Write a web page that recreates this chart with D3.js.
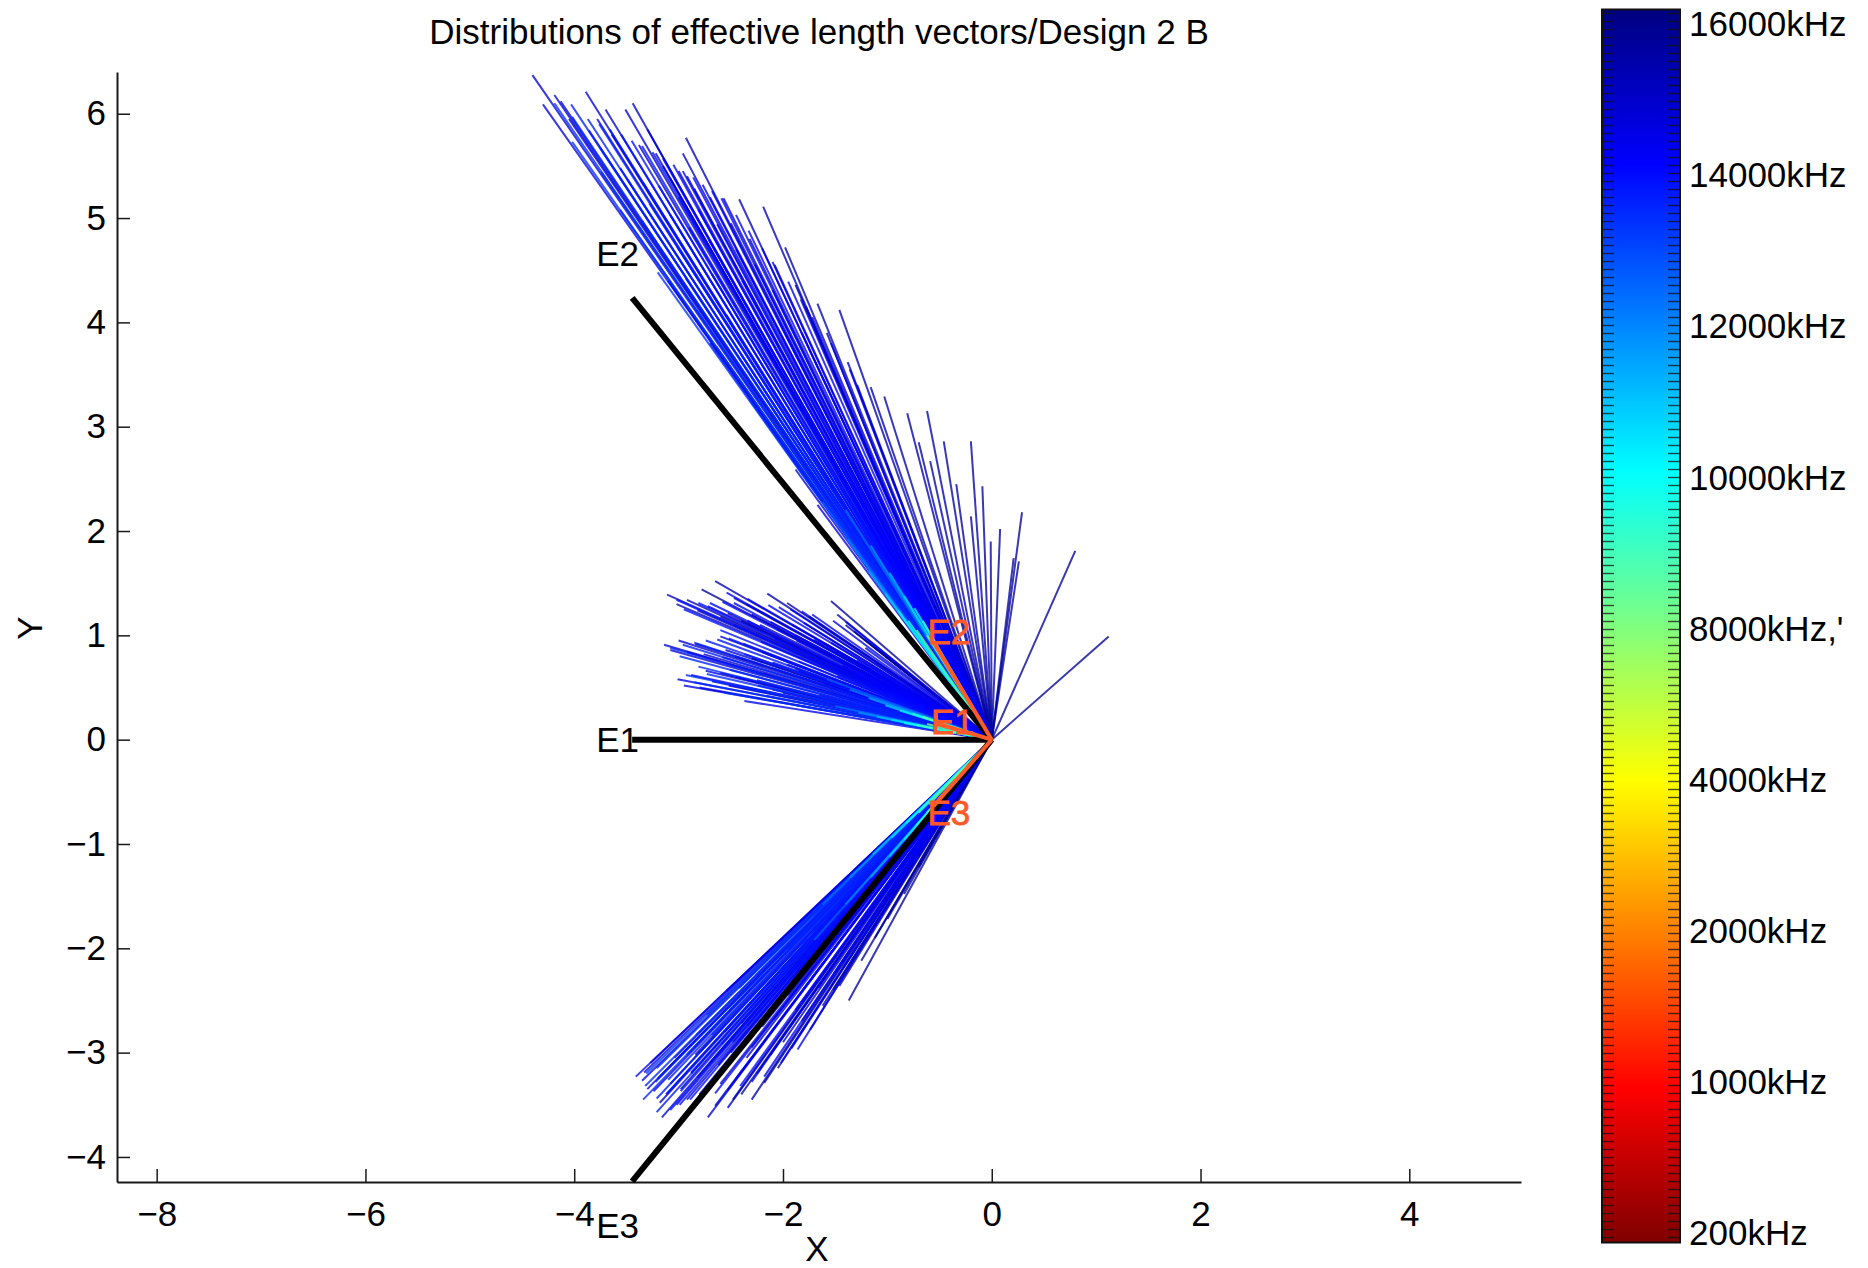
<!DOCTYPE html>
<html>
<head>
<meta charset="utf-8">
<script src="https://cdn.jsdelivr.net/npm/d3@7"></script>
<style>
  html, body { margin: 0; padding: 0; background: #fff; }
  svg text { font-family: "Liberation Sans", Arial, Helvetica, sans-serif; fill: #000; }
</style>
</head>
<body>
<svg id="chart" width="1868" height="1268"></svg>
<script>
// ---- data --------------------------------------------------------------
const titleText = "Distributions of effective length vectors/Design 2 B";
const xDomain = [-8.38, 5.07];
const yDomain = [-4.24, 6.40];
const xTicks = [-8, -6, -4, -2, 0, 2, 4];
const yTicks = [-4, -3, -2, -1, 0, 1, 2, 3, 4, 5, 6];

const cbarTickFreqs = [200, 1000, 2000, 4000, 8000, 10000, 12000, 14000, 16000];
const cbarTickLabels = ["200kHz", "1000kHz", "2000kHz", "4000kHz", "8000kHz,'",
                        "10000kHz", "12000kHz", "14000kHz", "16000kHz"];

// measurement frequencies (kHz); each electrode has one vector per frequency
const freqKHz = [
  200, 600, 1000, 2000, 4000, 6500,
  8000, 8500, 9000, 9500, 10000, 10300, 10600, 10900, 11200, 11500, 11800, 12100, 12400, 12700,
  13400, 13420, 13440, 13460, 13480, 13500, 13520, 13540, 13560, 13580,
  13600, 13620, 13640, 13660, 13680, 13700, 13720, 13740, 13760, 13780,
  13800, 13820, 13840, 13860, 13880, 13900, 13920, 13940, 13960, 13980,
  14000, 14020, 14040, 14060, 14080, 14100, 14120, 14140, 14160, 14180,
  14200, 14220, 14240, 14260, 14280, 14300, 14320, 14340, 14360, 14380,
  14400, 14420, 14440, 14460, 14480, 14500, 14520, 14540, 14560, 14580,
  14600, 14620, 14640, 14660, 14680, 14700, 14720, 14740, 14760, 14780,
  14800, 14820, 14840, 14860, 14880, 14900, 14920, 14940, 14960, 14980,
  15000, 15020, 15040, 15060, 15080, 15100, 15120, 15140, 15160, 15180,
  15200, 15220, 15240, 15260, 15280, 15300, 15320, 15340, 15360, 15380,
  15400, 15420, 15440, 15460, 15480, 15500, 15520, 15540, 15560, 15580,
  15600, 15620, 15640, 15660, 15680, 15700, 15720, 15740, 15760, 15780
];

// effective length vectors [x, y] of electrode E1
const vecE1 = [
  [-0.18,0.055],[-0.25,0.075],[-0.32,0.095],[-0.39,0.115],[-0.46,0.135],[-0.55,0.16],
  [-0.62,0.15],[-0.66,0.22],[-0.72,0.14],[-0.76,0.25],[-0.84,0.16],[-0.88,0.28],[-0.96,0.19],
  [-1.02,0.33],[-1.10,0.22],[-1.18,0.40],[-1.28,0.26],[-1.36,0.48],[-1.50,0.32],[-1.58,0.58],
  [-2.56,0.45],[-1.87,0.33],[-2.85,0.55],[-2.16,0.42],[-2.93,0.62],[-2.45,0.52],[-1.76,0.37],[-2.73,0.63],[-2.24,0.52],[-2.81,0.70],
  [-1.94,0.48],[-2.99,0.80],[-2.51,0.67],[-3.08,0.88],[-2.31,0.66],[-1.83,0.52],[-2.96,0.91],[-2.58,0.79],[-2.85,0.93],[-2.09,0.68],
  [-2.74,0.95],[-2.37,0.82],[-2.63,0.96],[-1.88,0.68],[-2.52,0.97],[-2.15,0.82],[-2.60,1.05],[-1.85,0.75],[-2.95,1.25],[-2.21,0.94],
  [-3.02,1.34],[-2.47,1.10],[-1.74,0.77],[-2.81,1.31],[-2.08,0.97],[-2.70,1.31],[-2.34,1.14],[-2.58,1.32],[-1.87,0.95],[-2.47,1.31],
  [-2.12,1.13],[-2.54,1.41],[-1.75,0.97],[-2.34,1.35],[-1.91,1.10],[-2.14,1.29],[-1.54,0.93],[-2.04,1.27],[-1.93,1.25],[-1.82,1.23],
  [-1.72,1.20],[-1.52,1.14],[-1.40,1.13],[-2.37,0.37],[-1.65,0.43],[-1.61,0.54],[-1.48,0.61],[-1.43,0.71],[-1.29,0.76],[-1.21,0.88],
  [-3.01,0.58],[-2.95,0.52],[-2.88,0.62],[-2.80,0.50],[-2.74,0.66],[-2.68,0.56],[-2.60,0.64],
  [-2.52,0.52],[-2.45,0.60],[-2.35,0.50],[-2.25,0.57],[-2.10,0.48],[-2.00,0.45],
  [-3.14,0.91],[-3.08,0.86],[-3.00,0.95],[-2.92,0.84],[-2.84,0.92],[-2.76,0.82],[-2.60,0.99],
  [-2.55,0.86],[-2.46,0.80],[-2.38,0.92],[-2.30,0.78],[-2.20,0.84],[-2.10,0.74],[-1.96,0.72],
  [-1.85,0.66],[-1.72,0.62],[-1.60,0.56],
  [-3.11,1.39],[-3.02,1.30],[-2.92,1.34],[-2.82,1.24],[-2.72,1.28],[-2.65,1.52],[-2.60,1.18],
  [-2.53,1.21],[-2.47,1.36],[-2.40,1.14],[-2.30,1.20],[-2.22,1.10],[-2.15,1.40],[-2.06,1.06],
  [-1.96,1.31],[-1.88,1.00],[-1.80,1.12],[-1.70,0.96],[-1.60,0.92],[-1.50,0.86],
  [-1.54,1.33],[-1.48,1.20],[-1.40,1.10],[-1.32,1.04],[-1.22,0.96],[-1.12,0.88],[-1.02,0.80],
  [-2.78,1.44],[-2.35,1.30],[-1.75,1.18]
];

// effective length vectors [x, y] of electrode E2
const vecE2 = [
  [-0.22,0.36],[-0.30,0.50],[-0.37,0.62],[-0.44,0.74],[-0.50,0.84],[-0.58,0.95],
  [-0.62,1.00],[-0.72,1.05],[-0.66,1.14],[-0.80,1.14],[-0.74,1.26],[-0.90,1.24],[-0.84,1.38],
  [-1.02,1.40],[-0.98,1.60],[-1.18,1.62],[-1.16,1.86],[-1.38,1.92],[-1.40,2.20],[-1.62,2.28],
  [-2.32,3.26],[-3.20,4.48],[-3.56,5.08],[-4.02,5.73],[-2.64,3.77],[-4.19,6.10],[-3.74,5.44],[-2.83,4.12],[-4.02,5.97],[-3.35,4.97],
  [-2.12,3.15],[-4.03,6.09],[-3.75,5.67],[-2.93,4.42],[-3.87,5.95],[-3.49,5.37],[-2.40,3.69],[-3.76,5.90],[-3.28,5.14],[-3.01,4.72],
  [-3.66,5.85],[-3.34,5.34],[-2.54,4.07],[-3.55,5.80],[-3.08,5.03],[-3.45,5.74],[-2.68,4.46],[-3.19,5.31],[-3.35,5.69],[-2.90,4.91],
  [-3.25,5.63],[-2.30,3.98],[-3.00,5.20],[-3.15,5.57],[-2.71,4.79],[-3.05,5.51],[-2.81,5.08],[-2.96,5.45],[-2.39,4.40],[-2.86,5.39],
  [-2.63,4.94],[-2.77,5.32],[-2.45,4.70],[-2.68,5.26],[-2.04,4.01],[-2.59,5.19],[-2.27,4.56],[-2.45,5.03],[-2.10,4.31],[-2.33,4.88],
  [-2.20,4.71],[-1.82,3.90],[-2.08,4.55],[-1.95,4.39],[-1.83,4.22],[-1.72,4.05],[-1.54,3.80],[-1.36,3.55],[-1.88,2.59],[-1.67,2.25],
  [-1.95,2.75],[-2.30,3.25],[-2.70,3.80],[-3.10,4.40],
  [-4.40,6.37],[-4.30,6.09],[-4.19,6.18],[-4.13,6.12],[-4.05,5.95],[-3.89,6.21],[-3.86,5.84],
  [-3.78,5.95],[-3.70,6.04],[-3.64,5.80],[-3.56,5.48],[-3.51,6.04],[-3.44,6.10],[-3.38,5.70],
  [-3.30,5.85],
  [-3.22,5.62],[-3.15,5.50],[-3.08,5.38],[-3.00,5.45],[-2.93,5.77],[-2.96,5.62],[-2.92,5.40],
  [-2.85,5.28],[-2.70,5.20],
  [-2.57,5.19],[-2.50,4.95],[-2.42,5.18],[-2.32,4.80],[-2.19,5.11],[-2.10,4.58],[-1.98,4.72],
  [-1.88,4.36],
  [-1.78,4.15],[-1.67,4.18],[-1.58,3.90],[-1.46,4.12],[-1.38,3.62],[-1.29,3.40],[-1.16,3.38],
  [-1.03,3.29],[-0.81,3.13],[-0.70,2.85],[-0.62,3.15],[-0.59,2.67],[-0.46,2.86],[-0.34,2.45],
  [-0.20,2.86],[-0.20,2.14],[-0.09,2.43],[-0.01,1.90],[0.08,2.02],[0.21,1.74],[0.26,1.71],
  [0.29,2.18],[0.80,1.81],[1.12,0.99]
];

// effective length vectors [x, y] of electrode E3
const vecE3 = [
  [-0.16,-0.18],[-0.22,-0.25],[-0.29,-0.33],[-0.36,-0.41],[-0.43,-0.49],[-0.52,-0.58],
  [-0.60,-0.62],[-0.62,-0.70],[-0.70,-0.70],[-0.72,-0.82],[-0.82,-0.80],[-0.84,-0.96],[-0.96,-0.94],
  [-0.98,-1.12],[-1.14,-1.10],[-1.16,-1.32],[-1.36,-1.32],[-1.40,-1.58],[-1.62,-1.58],[-1.70,-1.92],
  [-3.31,-3.20],[-2.73,-2.64],[-2.16,-2.09],[-3.21,-3.15],[-2.42,-2.38],[-3.32,-3.32],[-2.83,-2.83],[-2.26,-2.26],[-3.22,-3.28],[-2.52,-2.57],
  [-3.34,-3.45],[-2.92,-3.02],[-1.95,-2.01],[-3.10,-3.26],[-2.68,-2.83],[-3.21,-3.44],[-2.80,-3.00],[-2.25,-2.41],[-3.11,-3.39],[-2.50,-2.73],
  [-3.21,-3.57],[-2.88,-3.19],[-2.34,-2.60],[-2.98,-3.37],[-2.59,-2.92],[-3.08,-3.55],[-2.62,-3.02],[-2.03,-2.34],[-2.99,-3.50],[-2.34,-2.74],
  [-2.89,-3.45],[-2.44,-2.91],[-2.80,-3.40],[-2.10,-2.55],[-2.70,-3.34],[-2.20,-2.72],[-2.65,-3.39],[-2.09,-2.68],[-2.53,-3.36],[-1.81,-2.40],
  [-2.41,-3.32],[-1.88,-2.59],[-2.30,-3.28],[-1.66,-2.38],[-2.18,-3.23],[-1.51,-2.24],[-2.02,-3.10],[-1.42,-2.18],[-1.86,-2.97],[-3.41,-3.23],
  [-2.54,-2.41],[-1.58,-1.53],[-1.70,-1.70],[-1.39,-1.44],[-1.71,-1.83],[-1.47,-1.63],[-1.71,-1.96],[-1.86,-2.22],[-1.51,-1.86],[-1.36,-1.73],
  [-3.35,-3.27],[-3.33,-3.19],[-3.30,-3.35],[-3.27,-3.10],[-3.24,-3.37],[-3.20,-3.25],[-3.16,-3.62],
  [-3.12,-3.40],[-3.08,-3.30],[-3.04,-3.05],[-3.02,-3.50],[-2.98,-3.35],[-2.92,-3.45],[-2.88,-3.20],
  [-2.85,-2.95],[-2.82,-3.24],[-2.76,-3.40],[-2.72,-3.62],[-2.70,-3.10],[-2.65,-3.51],[-2.60,-3.30],
  [-2.56,-2.80],[-2.53,-3.53],[-2.50,-3.00],[-2.45,-3.25],[-2.40,-2.72],[-2.35,-3.05],[-2.30,-2.95],
  [-2.22,-2.55],[-2.20,-2.75],[-2.10,-2.55],[-2.02,-2.35],[-1.95,-2.45],[-1.85,-2.20],[-3.18,-3.48],
  [-2.95,-3.60],[-2.84,-3.02],[-2.62,-3.12],[-2.48,-2.90],[-3.10,-3.15],
  [-2.48,-3.45],[-2.40,-3.40],[-2.30,-3.45],[-2.25,-3.20],[-2.18,-3.29],[-2.12,-3.02],[-2.05,-3.15],
  [-2.00,-2.90],[-1.92,-2.96],[-1.82,-2.70],[-1.74,-2.78],[-1.62,-2.55],[-1.52,-2.40],[-1.46,-2.36],
  [-1.37,-2.50],[-1.25,-2.12],[-1.12,-1.90],[-1.00,-1.72],[-0.84,-1.48],[-0.70,-1.22]
];

const electrodeNames = ["E1", "E2", "E3"];
// design (reference) vectors drawn in black
const designVectors = [[-3.445, 0], [-3.445, 4.235], [-3.445, -4.235]];
// low-frequency vectors drawn in orange
const lowFreqVectors = [[-0.53, 0.155], [-0.56, 0.94], [-0.56, -0.64]];

// ---- layout -------------------------------------------------------------
const plot = { left: 117, right: 1521, top: 72, bottom: 1182 };
const cbar = { left: 1602, right: 1680, top: 9.5, bottom: 1242.5 };
const fontSize = 35;
const accent = "#ff5a28";

const svg = d3.select("#chart");

const x = d3.scaleLinear().domain(xDomain).range([plot.left, plot.right]);
const y = d3.scaleLinear().domain(yDomain).range([plot.bottom, plot.top]);

// jet colormap, bottom (0) dark red -> top (1) dark blue
const jetStops = [0, 0.125, 0.375, 0.625, 0.875, 1];
const jetColors = ["#800000", "#ff0000", "#ffff00", "#00ffff", "#0000ff", "#000080"];
const jet = d3.scaleLinear().domain(jetStops).range(jetColors).interpolate(d3.interpolateRgb).clamp(true);

// colorbar: fraction of bar height -> pixel; labels evenly spaced along it
const cbY = d3.scaleLinear().domain([0, 1]).range([cbar.bottom, cbar.top]);
const labelY = d3.scaleLinear().domain([0, cbarTickFreqs.length - 1]).range([1233, 23.8]);
const freqToY = d3.scaleLinear().domain(cbarTickFreqs)
  .range(cbarTickFreqs.map((_, i) => labelY(i))).clamp(true);
const freqColor = f => jet(cbY.invert(freqToY(f)));

// ---- title & axis labels ------------------------------------------------
svg.append("text")
  .attr("x", (plot.left + plot.right) / 2).attr("y", 44)
  .attr("text-anchor", "middle").attr("font-size", fontSize)
  .text(titleText);

svg.append("text")
  .attr("x", 817).attr("y", 1261)
  .attr("text-anchor", "middle").attr("font-size", fontSize)
  .text("X");

svg.append("text")
  .attr("transform", "translate(30,628) rotate(-90)")
  .attr("text-anchor", "middle").attr("dy", "0.35em").attr("font-size", fontSize)
  .text("Y");

// ---- axes ---------------------------------------------------------------
const xAxis = d3.axisBottom(x).tickValues(xTicks).tickSizeInner(-13).tickSizeOuter(0).tickPadding(19);
const yAxis = d3.axisLeft(y).tickValues(yTicks).tickSizeInner(-13).tickSizeOuter(0).tickPadding(11);

const gx = svg.append("g").attr("transform", `translate(0,${plot.bottom})`).call(xAxis);
const gy = svg.append("g").attr("transform", `translate(${plot.left},0)`).call(yAxis);
[gx, gy].forEach(g => {
  g.select(".domain").attr("stroke", "#1a1a1a").attr("stroke-width", 2);
  g.selectAll(".tick line").attr("stroke", "#1a1a1a").attr("stroke-width", 1.5);
  g.selectAll(".tick text").attr("font-size", fontSize).attr("font-family", null).attr("fill", "#000");
});

// ---- effective length vectors ------------------------------------------
const vectorSets = [vecE1, vecE2, vecE3];
const rows = [];
vectorSets.forEach((set, k) => set.forEach((v, i) => rows.push({ k, i, f: freqKHz[i], v })));
// highest frequencies first, so the shorter low-frequency vectors stay visible
rows.sort((a, b) => d3.descending(a.i, b.i) || d3.ascending(a.k, b.k));

svg.append("g").attr("class", "vectors")
  .selectAll("line").data(rows).join("line")
  .attr("x1", x(0)).attr("y1", y(0))
  .attr("x2", d => x(d.v[0])).attr("y2", d => y(d.v[1]))
  .attr("stroke", d => freqColor(d.f))
  .attr("stroke-width", 2)
  .attr("stroke-opacity", 0.78);

// design vectors (black) and low-frequency vectors (orange)
svg.append("g").selectAll("line").data(designVectors).join("line")
  .attr("x1", x(0)).attr("y1", y(0))
  .attr("x2", d => x(d[0])).attr("y2", d => y(d[1]))
  .attr("stroke", "#000").attr("stroke-width", 6);

svg.append("g").selectAll("line").data(lowFreqVectors).join("line")
  .attr("x1", x(0)).attr("y1", y(0))
  .attr("x2", d => x(d[0])).attr("y2", d => y(d[1]))
  .attr("stroke", accent).attr("stroke-width", 4);

// electrode labels at 1.1x of each vector
svg.append("g").selectAll("text").data(designVectors).join("text")
  .attr("x", d => x(1.1 * d[0])).attr("y", d => y(1.1 * d[1]))
  .attr("dy", "0.35em").attr("font-size", fontSize)
  .text((d, i) => electrodeNames[i]);

svg.append("g").selectAll("text").data(lowFreqVectors).join("text")
  .attr("x", d => x(1.1 * d[0])).attr("y", d => y(1.1 * d[1]))
  .attr("dy", "0.35em").attr("font-size", fontSize)
  .style("fill", accent).style("stroke", accent).style("stroke-width", 0.8)
  .text((d, i) => electrodeNames[i]);

// ---- colorbar -----------------------------------------------------------
const defs = svg.append("defs");
const grad = defs.append("linearGradient").attr("id", "jetGrad")
  .attr("x1", 0).attr("y1", 1).attr("x2", 0).attr("y2", 0);
grad.selectAll("stop").data(jetStops).join("stop")
  .attr("offset", d => d).attr("stop-color", (d, i) => jetColors[i]);

svg.append("rect")
  .attr("x", cbar.left).attr("y", cbar.top)
  .attr("width", cbar.right - cbar.left).attr("height", cbar.bottom - cbar.top)
  .attr("fill", "url(#jetGrad)");

const cbTicks = d3.range(cbar.top + 4, cbar.bottom - 2, 8);
const cbTickG = svg.append("g").attr("stroke", "#111").attr("stroke-opacity", 0.75).attr("stroke-width", 1.4);
cbTickG.selectAll("line.l").data(cbTicks).join("line").attr("class", "l")
  .attr("x1", cbar.left).attr("x2", cbar.left + 12).attr("y1", d => d).attr("y2", d => d);
cbTickG.selectAll("line.r").data(cbTicks).join("line").attr("class", "r")
  .attr("x1", cbar.right - 12).attr("x2", cbar.right).attr("y1", d => d).attr("y2", d => d);

svg.append("rect")
  .attr("x", cbar.left).attr("y", cbar.top)
  .attr("width", cbar.right - cbar.left).attr("height", cbar.bottom - cbar.top)
  .attr("fill", "none").attr("stroke", "#111").attr("stroke-width", 2);

svg.append("g").selectAll("text").data(cbarTickFreqs).join("text")
  .attr("x", cbar.right + 9).attr("y", d => freqToY(d))
  .attr("dy", "0.35em").attr("font-size", fontSize)
  .text((d, i) => cbarTickLabels[i]);
</script>
</body>
</html>
